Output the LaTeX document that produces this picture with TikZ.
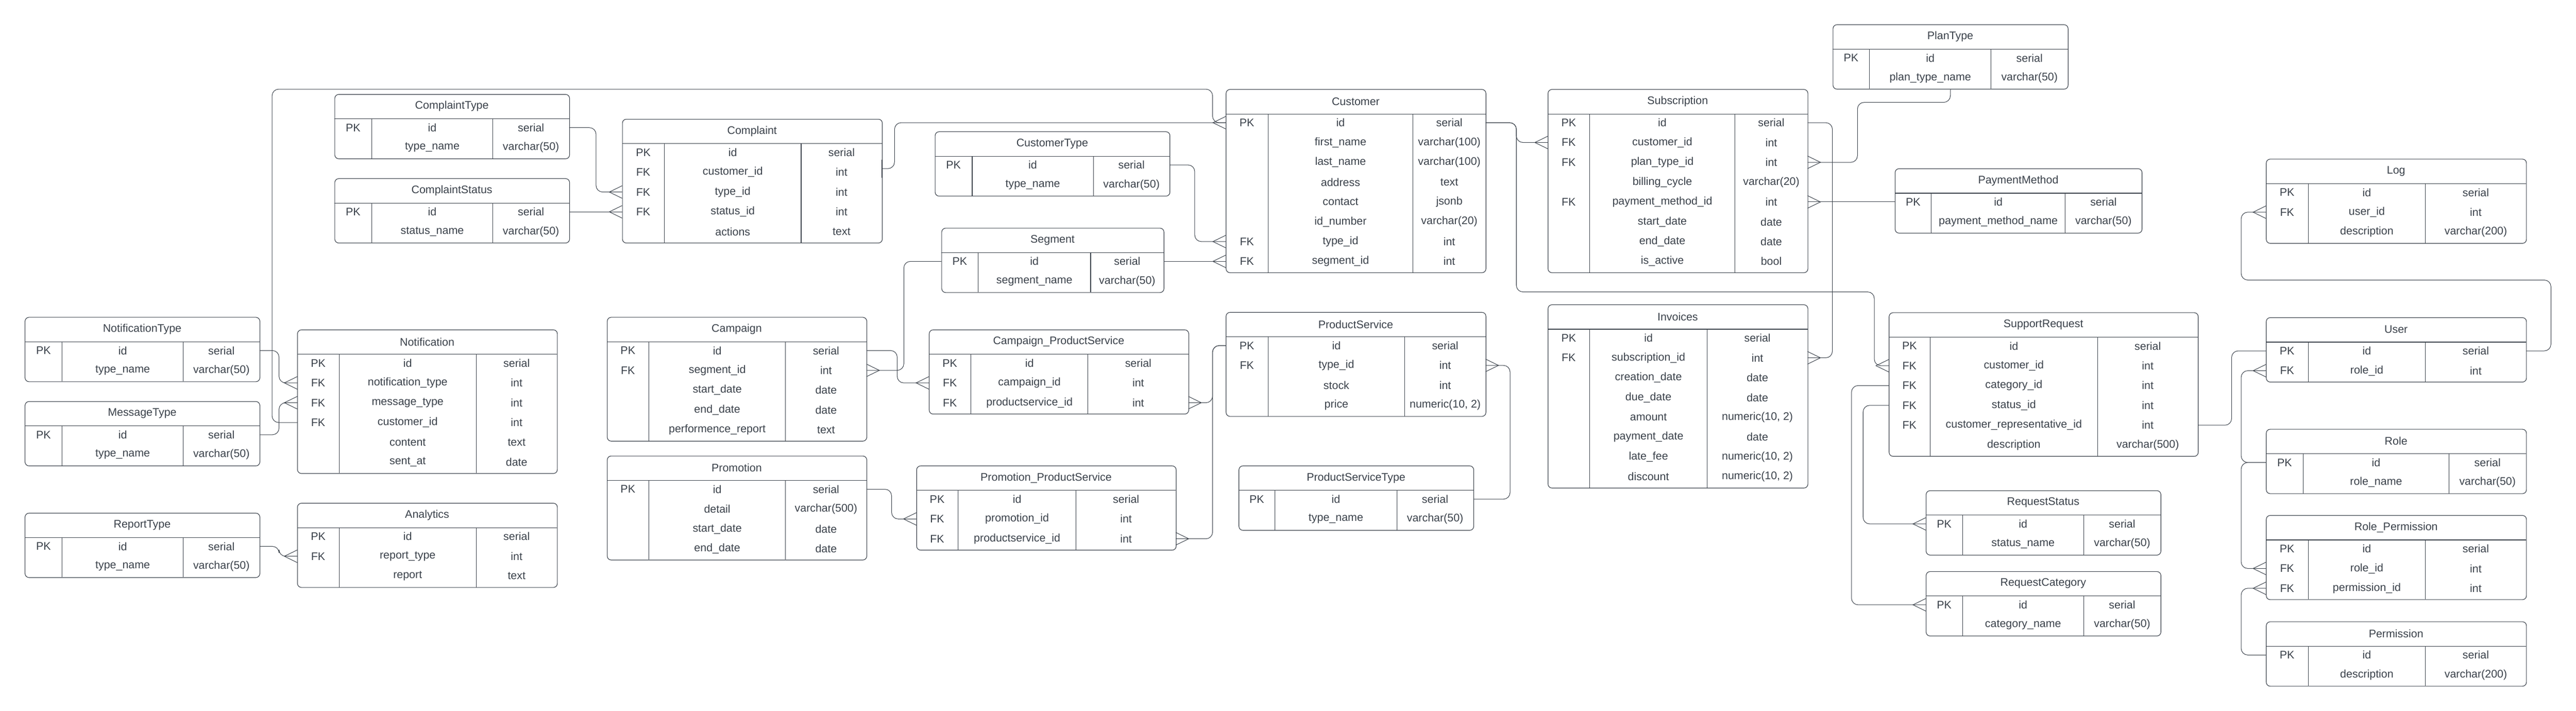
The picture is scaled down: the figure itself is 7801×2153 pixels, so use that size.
\documentclass[tikz,border=0pt]{standalone}
\usepackage{fontspec}
\setmainfont{Liberation Sans}
\definecolor{ercol}{RGB}{58,65,74}
\tikzset{
  tblbox/.style={draw=ercol, line width=0.5pt, rounded corners=0.12cm, inner sep=0pt, fill=none},
  tblline/.style={draw=ercol, line width=0.5pt},
  ertext/.style={font=\fontsize{9.5}{11}\selectfont, text=ercol, inner sep=0pt},
  conn/.style={draw=ercol, line width=0.45pt, rounded corners=0.2cm},
  crowst/.style={draw=ercol, line width=0.45pt},
}
% #1 name #2 x1 #3 x2 #4 top #5 colA #6 colB #7 nrows #8 title #9 rows
\newcommand{\ertable}[9]{%
  \pgfmathsetmacro{\erbot}{#4+75+60*#7}%
  \node[tblbox, minimum width={(#3-#2)*0.01cm}, minimum height={(\erbot-#4)*0.01cm}, anchor=north west] (#1) at (#2,#4) {};
  \draw[tblline] (#2,#4+75) -- (#3,#4+75);
  \draw[tblline] (#5,#4+75) -- (#5,\erbot);
  \draw[tblline] (#6,#4+75) -- (#6,\erbot);
  \node[ertext] (#1-title) at ({(#2+#3)/2},#4+37) {#8};
  \foreach [count=\i] \k/\n/\t in {#9} {
    \pgfmathsetmacro{\ry}{#4+101.5+60*(\i-1)}
    \coordinate (#1-\i-w) at (#2,\ry);
    \coordinate (#1-\i-e) at (#3,\ry);
    \node[ertext] (#1-\i-k) at ({(#2+#5)/2},\ry) {\k};
    \node[ertext] (#1-\i-n) at ({(#5+#6)/2},\ry) {\n};
    \node[ertext] (#1-\i-t) at ({(#6+#3)/2},\ry) {\t};
  }%
}
\newcommand{\crowL}[1]{\draw[crowst] (#1) ++(0,-19) -- ++(-39,19) -- ++(39,19);}
\newcommand{\crowR}[1]{\draw[crowst] (#1) ++(0,-19) -- ++(39,19) -- ++(-39,19);}
\begin{document}
\begin{tikzpicture}[x=0.01cm,y=-0.01cm]
\fill[white] (0,0) rectangle (7801,2153);
\useasboundingbox (0,0) rectangle (7801,2153);

% ---------- tables ----------
\ertable{ctype}{1013}{1724}{285}{1126}{1492}{2}{ComplaintType}{PK/id/serial, {}/type\_name/varchar(50)}
\ertable{cstat}{1013}{1724}{540}{1126}{1492}{2}{ComplaintStatus}{PK/id/serial, {}/status\_name/varchar(50)}
\ertable{ntype}{75}{786}{960}{188}{555}{2}{NotificationType}{PK/id/serial, {}/type\_name/varchar(50)}
\ertable{mtype}{75}{786}{1215}{188}{555}{2}{MessageType}{PK/id/serial, {}/type\_name/varchar(50)}
\ertable{rtype}{75}{786}{1553}{188}{555}{2}{ReportType}{PK/id/serial, {}/type\_name/varchar(50)}
\ertable{notif}{900}{1687}{998}{1027}{1442}{6}{Notification}{PK/id/serial, FK/notification\_type/int, FK/message\_type/int, FK/customer\_id/int, {}/content/text, {}/sent\_at/date}
\ertable{anal}{900}{1687}{1523}{1027}{1442}{3}{Analytics}{PK/id/serial, FK/report\_type/int, {}/report/text}
\ertable{compl}{1884}{2671}{360}{2012}{2426}{5}{Complaint}{PK/id/serial, FK/customer\_id/int, FK/type\_id/int, FK/status\_id/int, {}/actions/text}
\ertable{custtype}{2831}{3542}{398}{2944}{3311}{2}{CustomerType}{PK/id/serial, {}/type\_name/varchar(50)}
\ertable{segm}{2851}{3524}{690}{2962}{3303}{2}{Segment}{PK/id/serial, {}/segment\_name/varchar(50)}
\ertable{camp}{1838}{2624}{960}{1965}{2379}{5}{Campaign}{PK/id/serial, FK/segment\_id/int, {}/start\_date/date, {}/end\_date/date, {}/performence\_report/text}
\ertable{cps}{2813}{3599}{998}{2940}{3295}{3}{Campaign\_ProductService}{PK/id/serial, FK/campaign\_id/int, FK/productservice\_id/int}
\ertable{promo}{1838}{2624}{1380}{1965}{2379}{4}{Promotion}{PK/id/serial, {}/detail/varchar(500), {}/start\_date/date, {}/end\_date/date}
\ertable{pps}{2775}{3561}{1410}{2901}{3259}{3}{Promotion\_ProductService}{PK/id/serial, FK/promotion\_id/int, FK/productservice\_id/int}
\ertable{cust}{3712}{4499}{270}{3840}{4279}{8}{Customer}{PK/id/serial, {}/first\_name/varchar(100), {}/last\_name/varchar(100), {}/address/text, {}/contact/jsonb, {}/id\_number/varchar(20), FK/type\_id/int, FK/segment\_id/int}
\ertable{sub}{4687}{5474}{270}{4814}{5254}{8}{Subscription}{PK/id/serial, FK/customer\_id/int, FK/plan\_type\_id/int, {}/billing\_cycle/varchar(20), FK/payment\_method\_id/int, {}/start\_date/date, {}/end\_date/date, {}/is\_active/bool}
\ertable{ps}{3712}{4499}{945}{3840}{4254}{4}{ProductService}{PK/id/serial, FK/type\_id/int, {}/stock/int, {}/price/{numeric(10, 2)}}
\ertable{pst}{3751}{4462}{1410}{3861}{4230}{2}{ProductServiceType}{PK/id/serial, {}/type\_name/varchar(50)}
\ertable{inv}{4687}{5474}{922}{4814}{5170}{8}{Invoices}{PK/id/serial, FK/subscription\_id/int, {}/creation\_date/date, {}/due\_date/date, {}/amount/{numeric(10, 2)}, {}/payment\_date/date, {}/late\_fee/{numeric(10, 2)}, {}/discount/{numeric(10, 2)}}
\ertable{plan}{5550}{6262}{74}{5661}{6030}{2}{PlanType}{PK/id/serial, {}/plan\_type\_name/varchar(50)}
\ertable{paym}{5738}{6486}{510}{5849}{6254}{2}{PaymentMethod}{PK/id/serial, {}/payment\_method\_name/varchar(50)}
\ertable{sr}{5720}{6656}{946}{5845}{6352}{6}{SupportRequest}{PK/id/serial, FK/customer\_id/int, FK/category\_id/int, FK/status\_id/int, FK/customer\_representative\_id/int, {}/description/varchar(500)}
\ertable{rs}{5832}{6543}{1485}{5943}{6310}{2}{RequestStatus}{PK/id/serial, {}/status\_name/varchar(50)}
\ertable{rc}{5832}{6543}{1730}{5943}{6310}{2}{RequestCategory}{PK/id/serial, {}/category\_name/varchar(50)}
\ertable{log}{6862}{7650}{481}{6990}{7345}{3}{Log}{PK/id/serial, FK/user\_id/int, {}/description/varchar(200)}
\ertable{user}{6862}{7650}{961}{6990}{7345}{2}{User}{PK/id/serial, FK/role\_id/int}
\ertable{role}{6862}{7650}{1299}{6975}{7416}{2}{Role}{PK/id/serial, {}/role\_name/varchar(50)}
\ertable{rp}{6862}{7650}{1560}{6990}{7345}{3}{Role\_Permission}{PK/id/serial, FK/role\_id/int, FK/permission\_id/int}
\ertable{perm}{6862}{7650}{1882}{6990}{7345}{2}{Permission}{PK/id/serial, {}/description/varchar(200)}

% ---------- connectors ----------
\draw[conn] (ctype-1-e) -- ++(81,0) |- (compl-3-w);
\crowL{compl-3-w}
\draw[conn] (cstat-1-e) -- (compl-4-w);
\crowL{compl-4-w}
\draw[conn] (ntype-1-e) -- ++(59,0) |- (notif-2-w);
\crowL{notif-2-w}
\draw[conn] (mtype-1-e) -- ++(59,0) |- (notif-3-w);
\crowL{notif-3-w}
\draw[conn] (rtype-1-e) -- ++(59,0) |- (anal-2-w);
\crowL{anal-2-w}
\draw[conn] (notif-4-w) -- ++(-76,0) |- (3672,270) |- (cust-1-w);
\coordinate (cbar) at ([yshift=0.11cm]compl-2-e);
\draw[crowst] (cbar) ++(0,-27) -- ++(0,54);
\draw[conn] (cbar) -- ++(38,0) |- (cust-1-w);
\crowL{cust-1-w}
\draw[conn] (custtype-1-e) -- ++(76,0) |- (cust-7-w);
\crowL{cust-7-w}
\draw[conn] (segm-1-e) -- (cust-8-w);
\crowL{cust-8-w}
\draw[conn] (segm-1-w) -- ++(-114,0) |- (camp-2-e);
\crowR{camp-2-e}
\draw[conn] (camp-1-e) -- ++(93,0) |- (cps-2-w);
\crowL{cps-2-w}
\draw[conn] (cps-3-e) -- ++(73,0) |- (ps-1-w);
\crowR{cps-3-e}
\draw[conn] (promo-1-e) -- ++(76,0) |- (pps-2-w);
\crowL{pps-2-w}
\draw[conn] (pps-3-e) -- ++(111,0) |- (ps-1-w);
\crowR{pps-3-e}
\draw[conn] (ps-2-e) -- ++(74,0) |- (pst-1-e);
\crowR{ps-2-e}
\draw[conn] (cust-1-e) -- ++(93,0) |- (sub-2-w);
\crowL{sub-2-w}
\draw[conn] (cust-1-e) -- ++(93,0) |- (5676,884) |- (sr-2-w);
\crowL{sr-2-w}
\draw[conn] (sub-1-e) -- ++(75,0) |- (inv-2-e);
\crowR{inv-2-e}
\draw[conn] (sub-3-e) -- ++(151,0) |- (5906,310) -- (plan.south);
\crowR{sub-3-e}
\draw[conn] (sub-5-e) -- (paym-1-w);
\crowR{sub-5-e}
\draw[conn] (sr-3-w) -- ++(-113,0) |- (rc-1-w);
\crowL{rc-1-w}
\draw[conn] (sr-4-w) -- ++(-78,0) |- (rs-1-w);
\crowL{rs-1-w}
\draw[conn] (sr-5-e) -- ++(102,0) |- (user-1-w);
\draw[conn] (user-1-e) -- ++(75,0) |- (6787,848) |- (log-2-w);
\crowL{log-2-w}
\draw[conn] (role-1-w) -- ++(-75,0) |- (user-2-w);
\crowL{user-2-w}
\draw[conn] (role-1-w) -- ++(-75,0) |- (rp-2-w);
\crowL{rp-2-w}
\draw[conn] (perm-1-w) -- ++(-75,0) |- (rp-3-w);
\crowL{rp-3-w}
\end{tikzpicture}
\end{document}
